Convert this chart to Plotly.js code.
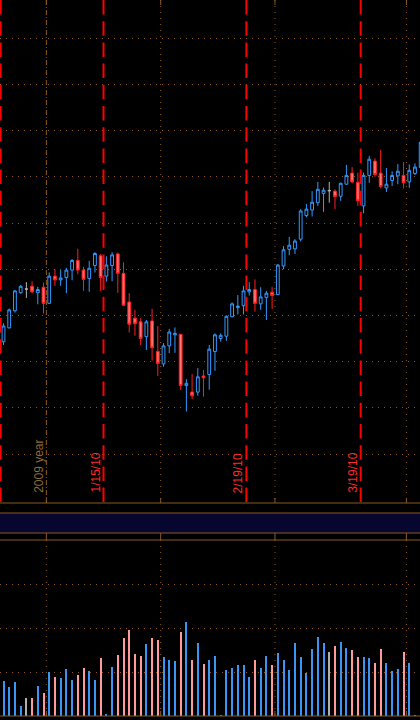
<!DOCTYPE html>
<html><head><meta charset="utf-8">
<script src="https://cdn.plot.ly/plotly-3.0.1.min.js"></script>
<style>html,body{margin:0;padding:0;background:#000;overflow:hidden}#chart{width:420px;height:720px}</style>
</head><body><div id="chart"></div>
<script>
const dates = [
 '2009-12-21','2009-12-22','2009-12-23','2009-12-24','2009-12-28','2009-12-29','2009-12-30','2009-12-31',
 '2010-01-04','2010-01-05','2010-01-06','2010-01-07','2010-01-08','2010-01-11','2010-01-12','2010-01-13','2010-01-14','2010-01-15',
 '2010-01-18','2010-01-19','2010-01-20','2010-01-21','2010-01-22','2010-01-25','2010-01-26','2010-01-27','2010-01-28','2010-01-29',
 '2010-02-01','2010-02-02','2010-02-03','2010-02-04','2010-02-05','2010-02-08','2010-02-09','2010-02-10','2010-02-11','2010-02-12',
 '2010-02-15','2010-02-16','2010-02-17','2010-02-18','2010-02-19','2010-02-22','2010-02-23','2010-02-24','2010-02-25','2010-02-26',
 '2010-03-01','2010-03-02','2010-03-03','2010-03-04','2010-03-05','2010-03-08','2010-03-09','2010-03-10','2010-03-11','2010-03-12',
 '2010-03-15','2010-03-16','2010-03-17','2010-03-18','2010-03-19','2010-03-22','2010-03-23','2010-03-24','2010-03-25','2010-03-26',
 '2010-03-29','2010-03-30','2010-03-31','2010-04-01','2010-04-02','2010-04-05'];
const open = [1074.3,1077.3,1081.0,1084.9,1085.7,1086.3,1084.9,1086.1,1082.6,1088.5,1087.7,1088.2,1089.8,1091.9,1089.8,1088.0,1090.8,1092.9,1088.5,1090.8,
 1093.3,1089.1,1082.9,1079.4,1078.6,1075.4,1078.8,1072.2,1069.5,1073.4,1075.8,1075.9,1064.8,1063.4,1063.4,1066.9,1067.2,1072.2,1075.0,1075.5,
 1079.7,1081.7,1082.1,1085.1,1085.6,1082.5,1083.9,1085.0,1084.5,1090.7,1094.3,1094.4,1096.5,1101.6,1102.8,1104.4,1106.4,1107.0,1106.9,1105.8,
 1108.4,1110.8,1108.8,1103.7,1110.3,1113.4,1110.8,1107.6,1109.2,1110.2,1110.3,1108.9,1110.7,1112.0];
const high = [1078.3,1081.5,1085.5,1086.6,1087.2,1087.4,1086.2,1087.1,1089.3,1090.0,1089.8,1090.3,1092.2,1094.4,1090.5,1091.8,1093.7,1093.3,1092.8,1093.7,
 1093.6,1091.5,1084.8,1081.2,1079.4,1079.0,1081.4,1077.7,1074.0,1077.1,1077.4,1076.0,1066.2,1067.3,1068.6,1068.2,1073.6,1076.1,1076.1,1080.0,
 1082.8,1084.4,1086.4,1087.2,1087.8,1086.1,1085.3,1086.2,1091.1,1095.0,1097.0,1096.5,1103.0,1104.1,1106.9,1108.9,1107.7,1108.9,1107.3,1108.7,
 1112.6,1112.1,1110.9,1110.9,1114.5,1114.0,1115.8,1111.9,1111.2,1112.8,1113.2,1112.7,1112.9,1118.0];
const low = [1073.6,1077.2,1080.6,1084.7,1083.8,1084.8,1082.4,1080.4,1082.5,1086.4,1086.4,1084.8,1087.6,1088.9,1085.3,1085.1,1089.3,1085.3,1087.3,1087.4,
 1084.9,1082.0,1076.3,1075.6,1073.6,1072.5,1070.2,1066.9,1068.9,1071.8,1071.9,1063.9,1059.2,1061.9,1062.6,1062.4,1063.9,1068.0,1074.3,1074.5,
 1079.6,1080.2,1080.2,1084.3,1080.8,1081.2,1079.0,1081.4,1084.4,1090.0,1093.0,1093.3,1096.0,1101.2,1101.4,1103.7,1102.4,1104.4,1103.0,1104.8,
 1108.3,1108.6,1103.7,1102.1,1108.7,1110.0,1107.5,1106.7,1108.0,1108.4,1107.5,1107.6,1110.4,1111.8];
const close = [1077.7,1081.2,1085.3,1086.3,1085.7,1085.1,1085.6,1082.6,1088.5,1087.7,1088.1,1089.8,1091.9,1089.8,1087.8,1090.2,1093.4,1088.2,1090.9,1093.1,
 1089.1,1082.2,1078.1,1078.2,1075.0,1078.6,1073.0,1069.6,1073.4,1076.4,1076.1,1064.8,1065.3,1062.6,1066.7,1066.5,1072.7,1075.8,1075.7,1079.8,
 1082.5,1082.0,1085.3,1085.6,1082.6,1084.0,1084.8,1084.3,1090.9,1094.2,1095.2,1096.1,1102.6,1103.0,1104.5,1107.3,1107.1,1107.0,1105.7,1108.6,
 1110.3,1108.9,1104.8,1110.3,1113.8,1110.5,1107.9,1108.4,1110.3,1111.2,1108.7,1111.4,1112.1,1117.5];
const volume = [795,659,773,227,409,409,682,523,1000,886,864,1068,818,932,1091,1023,818,1318,45,1114,
 1386,1773,1955,1409,1364,1636,1773,1727,1341,1273,1250,1909,2136,1273,1659,1182,1273,1364,25,1045,
 1091,1159,1159,886,1273,1091,1364,1159,1432,1273,1045,1659,1341,977,1523,1795,1659,1455,1591,1682,
 1545,1500,1341,1341,1318,1205,1523,1205,1023,1068,1455,1205,25,1114];
const expiries = ['2009-12-18','2010-01-15','2010-02-19','2010-03-19'];
const yearLabel = '2009 year';
const priceGrid = [1050,1060,1070,1080,1090,1100,1110,1120,1130,1140];
const volumeGrid = [1000,2000,3000];

const W = 420, H = 720;
const P = py => 1 - py / H;            // pixel row -> paper y
const mainTop = 0, mainBot = 503, bandTop = 513, bandBot = 533, volTop = 540, volBot = 716;
const GRID = '#8f5a1c', AXIS = '#8a5a26', DOT = '1px,5px';
const COL = {
  up:   {line:'#3399ff', fill:'#000000', vol:'#3a95f5'},
  down: {line:'#ff1f1f', fill:'#ff7373', vol:'#ff9a9a'},
  flat: {line:'#b4b4b4', fill:'#b4b4b4', vol:'#b0b0b0'}
};
const dir = i => close[i] > open[i] ? 'up' : (close[i] < open[i] ? 'down' : 'flat');

const traces = [];
['up','down','flat'].forEach(k => {
  const idx = dates.map((d,i)=>i).filter(i => dir(i) === k);
  const c = COL[k];
  traces.push({
    type:'candlestick', xaxis:'x', yaxis:'y',
    x: idx.map(i=>dates[i]), open: idx.map(i=>open[i]), high: idx.map(i=>high[i]),
    low: idx.map(i=>low[i]), close: idx.map(i=>close[i]),
    increasing:{line:{color:c.line,width:1}, fillcolor:c.fill},
    decreasing:{line:{color:c.line,width:1}, fillcolor:c.fill},
    whiskerwidth:0, hoverinfo:'skip', showlegend:false
  });
});
traces.push({
  type:'bar', xaxis:'x2', yaxis:'y2', x: dates, y: volume, width: 0.35,
  marker:{color: dates.map((d,i)=>COL[dir(i)].vol), line:{width:0}},
  hoverinfo:'skip', showlegend:false
});

// vertical markers
const monthLines = [];
for (let i = 1; i < dates.length; i++) {
  if (dates[i].slice(0,7) !== dates[i-1].slice(0,7)) monthLines.push({pos:i-0.5, year: dates[i].slice(0,4) !== dates[i-1].slice(0,4)});
}
const expiryLines = expiries.map(e => {
  let i = dates.findIndex(d => d > e);
  const [y,m,d] = e.split('-').map(Number);
  return {pos: i - 0.5, label: m + '/' + d + '/' + String(y).slice(2)};
});

const shapes = [];
shapes.push({type:'rect', xref:'paper', yref:'paper', x0:0, x1:1, y0:P(bandBot), y1:P(bandTop), fillcolor:'#06062e', line:{width:0}, layer:'below'});
[mainBot, bandTop, bandBot, volTop, volBot].forEach(py => shapes.push({type:'line', xref:'paper', yref:'paper', x0:0, x1:1, y0:P(py), y1:P(py), line:{color:AXIS, width:1}}));
monthLines.forEach(m => {
  shapes.push({type:'line', xref:'x', yref:'paper', x0:m.pos, x1:m.pos, y0:P(mainTop), y1:P(mainBot), line:{color:GRID, width:1, dash: m.year ? '5px,2px,1px,2px' : DOT}});
  shapes.push({type:'line', xref:'x', yref:'paper', x0:m.pos, x1:m.pos, y0:P(volTop), y1:P(volBot), line:{color:GRID, width:1, dash:DOT}});
  [[0,5],[498,503],[533,540],[711,716]].forEach(([a,b]) => shapes.push({type:'line', xref:'x', yref:'paper', x0:m.pos, x1:m.pos, y0:P(a), y1:P(b), line:{color:AXIS, width:1}}));
});
expiryLines.forEach(e => {
  shapes.push({type:'line', xref:'x', yref:'paper', x0:e.pos, x1:e.pos, y0:P(mainTop), y1:P(mainBot), line:{color:'#ff0000', width:2, dash:'14.5px,6.7px'}});
});

const annotations = [];
const FONT = 'Liberation Sans, Arial, sans-serif';
monthLines.filter(m => m.year).forEach(m => annotations.push({
  xref:'x', yref:'paper', x:m.pos, y:P(495), xanchor:'right', yanchor:'bottom', xshift:1,
  text: yearLabel, textangle:-90, showarrow:false, font:{family:FONT, size:12, color:'#8d6b3a'}
}));
expiryLines.filter(e => e.pos > 0).forEach(e => annotations.push({
  xref:'x', yref:'paper', x:e.pos, y:P(495), xanchor:'right', yanchor:'bottom', xshift:1,
  text: e.label, textangle:-90, showarrow:false, font:{family:FONT, size:12, color:'#ff2a2a'}
}));

const xr = [-3.5/5.715, (W-3.5)/5.715];
const xcommon = {type:'category', categoryorder:'array', categoryarray:dates, range:xr, domain:[0,1],
  showgrid:false, showticklabels:false, zeroline:false, showline:false, ticks:'', fixedrange:true};
const layout = {
  width:W, height:H, margin:{l:0,r:0,t:0,b:0,pad:0},
  paper_bgcolor:'#000', plot_bgcolor:'#000',
  showlegend:false, boxmode:'overlay', bargap:0,
  xaxis:Object.assign({}, xcommon, {anchor:'y', rangeslider:{visible:false}}),
  xaxis2:Object.assign({}, xcommon, {anchor:'y2', matches:'x'}),
  yaxis:{domain:[P(mainBot), P(mainTop)], range:[1050-(mainBot-454)/4.62, 1050+454/4.62], tickmode:'array', tickvals:priceGrid,
    showticklabels:false, showgrid:true, gridcolor:GRID, gridwidth:1, griddash:DOT, zeroline:false, showline:false, ticks:'', fixedrange:true},
  yaxis2:{domain:[P(volBot), P(volTop)], range:[0,4000], tickmode:'array', tickvals:volumeGrid,
    showticklabels:false, showgrid:true, gridcolor:GRID, gridwidth:1, griddash:DOT, zeroline:false, showline:false, ticks:'', fixedrange:true},
  shapes, annotations
};
Plotly.newPlot('chart', traces, layout, {staticPlot:true, displayModeBar:false});
</script></body></html>
